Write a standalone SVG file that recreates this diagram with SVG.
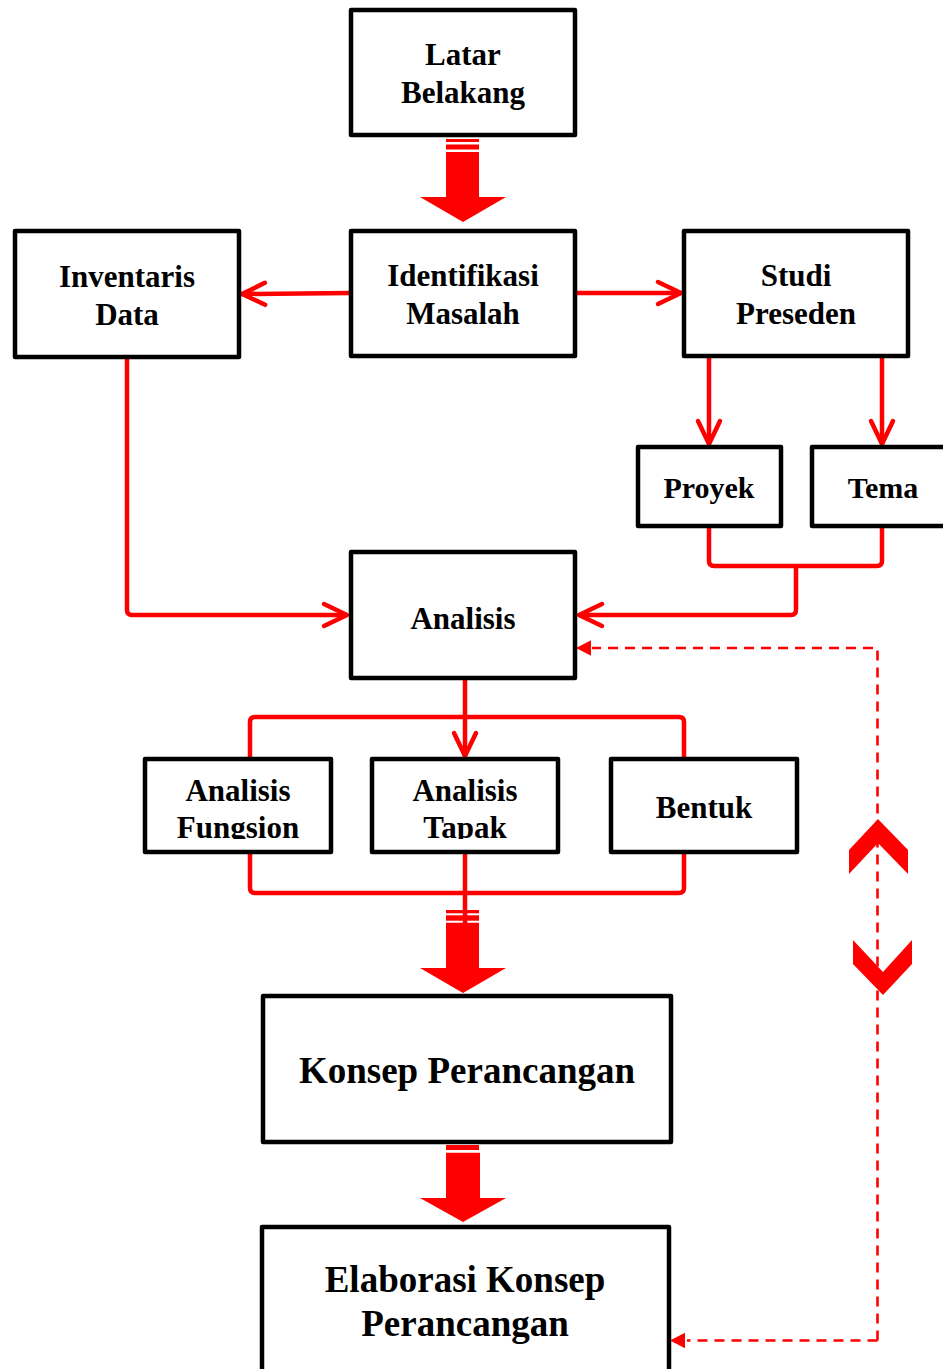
<svg xmlns="http://www.w3.org/2000/svg" width="943" height="1369" viewBox="0 0 943 1369">
<style>
.box{fill:#fff;stroke:#000;stroke-width:4.5;stroke-linejoin:round}
.t{font-family:"Liberation Serif","Times New Roman",serif;font-weight:bold;fill:#000;text-anchor:middle}
.t31{font-size:31px}
.t29{font-size:30px}
.t37{font-size:37px}
.ln{fill:none;stroke:#f00;stroke-width:4.5;stroke-linejoin:round;stroke-linecap:butt}
.dash{fill:none;stroke:#f00;stroke-width:2.6;stroke-dasharray:10 7}
.big{fill:#f00}
</style>
<defs>
<marker id="open" markerUnits="userSpaceOnUse" viewBox="-30 -16 34 32" refX="0" refY="0" markerWidth="34" markerHeight="32" orient="auto" overflow="visible">
<path d="M-23,-11 L0,0 L-23,11" fill="none" stroke="#f00" stroke-width="4.5" stroke-linecap="round" stroke-linejoin="round"/>
</marker>
<marker id="tri" markerUnits="userSpaceOnUse" viewBox="-16 -8 17 16" refX="0" refY="0" markerWidth="17" markerHeight="16" orient="auto" overflow="visible">
<path d="M0,0 L-15,-7.8 L-15,7.8 Z" fill="#f00"/>
</marker>
<clipPath id="clipF"><rect x="145" y="759" width="186" height="80"/></clipPath>
<clipPath id="clipT"><rect x="372" y="759" width="186" height="80"/></clipPath>
</defs>

<g id="connectors">
<!-- big arrows -->
<g id="big1" class="big">
<rect x="446" y="139" width="33" height="3"/>
<rect x="446" y="144.5" width="33" height="5"/>
<polygon points="446,152 479,152 479,197 506,197 463,222 420,197 446,197"/>
</g>
<g id="big2" class="big">
<rect x="446" y="910" width="33" height="3.3"/>
<rect x="446" y="915.3" width="33" height="5.4"/>
<polygon points="446,922.7 479,922.7 479,968 506,968 463,993 420,968 446,968"/>
</g>
<g id="big3" class="big">
<rect x="446" y="1140" width="33" height="3"/>
<rect x="446" y="1145" width="33" height="5"/>
<polygon points="446,1152.7 480,1152.7 480,1198 506,1198 463,1222 420,1198 446,1198"/>
</g>

<!-- thin connectors -->
<path class="ln" d="M351,293 L242,294" marker-end="url(#open)"/>
<path class="ln" d="M575,293 L681,293" marker-end="url(#open)"/>
<path class="ln" d="M709,357 L709,444" marker-end="url(#open)"/>
<path class="ln" d="M882,357 L882,444" marker-end="url(#open)"/>
<path class="ln" d="M709,527 L709,561 Q709,566 714,566 L877,566 Q882,566 882,561 L882,527"/>
<path class="ln" d="M796,566 L796,610 Q796,615 791,615 L579,615" marker-end="url(#open)"/>
<path class="ln" d="M127,357 L127,610 Q127,615 132,615 L347,615" marker-end="url(#open)"/>
<path class="ln" d="M465,679 L465,756" marker-end="url(#open)"/>
<path class="ln" d="M250,759 L250,722 Q250,717 255,717 L679,717 Q684,717 684,722 L684,759"/>
<path class="ln" d="M250,852 L250,888 Q250,893 255,893 L679,893 Q684,893 684,888 L684,852"/>
<path class="ln" d="M465,852 L465,924"/>

<!-- dashed feedback -->
<path class="dash" d="M877.5,1340.5 L877.5,648 L592,648"/>
<path d="M590,648 L576,648" stroke="none" marker-end="url(#tri)"/>
<path class="dash" d="M877.5,1340.5 L687,1340.5"/>
<path d="M690,1340.5 L670,1340.5" stroke="none" marker-end="url(#tri)"/>
<polygon class="big" points="878,819 908,850 908,874 878,843 849,874 849,850"/>
<polygon class="big" points="853,940 883,972 912,940 912,964 883,995 853,964"/>
</g>

<g id="latar">
<rect class="box" x="351" y="10" width="224" height="125"/>
<text class="t t31" x="463" y="65">Latar</text>
<text class="t t31" x="463" y="103">Belakang</text>
</g>
<g id="identifikasi">
<rect class="box" x="351" y="231" width="224" height="125"/>
<text class="t t31" x="463" y="286">Identifikasi</text>
<text class="t t31" x="463" y="324">Masalah</text>
</g>
<g id="inventaris">
<rect class="box" x="15" y="231" width="224" height="126"/>
<text class="t t31" x="127" y="287">Inventaris</text>
<text class="t t31" x="127" y="325">Data</text>
</g>
<g id="studi">
<rect class="box" x="684" y="231" width="224" height="125"/>
<text class="t t31" x="796" y="286">Studi</text>
<text class="t t31" x="796" y="324">Preseden</text>
</g>
<g id="proyek">
<rect class="box" x="638" y="447" width="143" height="79"/>
<text class="t t29" x="709" y="498">Proyek</text>
</g>
<g id="tema">
<rect class="box" x="812" y="447" width="143" height="79"/>
<text class="t t29" x="883" y="498">Tema</text>
</g>
<g id="analisis">
<rect class="box" x="351" y="552" width="224" height="126"/>
<text class="t t31" x="463" y="629">Analisis</text>
</g>
<g id="fungsion">
<rect class="box" x="145" y="759" width="186" height="93"/>
<g clip-path="url(#clipF)">
<text class="t t31" x="238" y="801">Analisis</text>
<text class="t t31" x="238" y="838">Fungsion</text>
</g>
</g>
<g id="tapak">
<rect class="box" x="372" y="759" width="186" height="93"/>
<g clip-path="url(#clipT)">
<text class="t t31" x="465" y="801">Analisis</text>
<text class="t t31" x="465" y="838">Tapak</text>
</g>
</g>
<g id="bentuk">
<rect class="box" x="611" y="759" width="186" height="93"/>
<text class="t t31" x="704" y="818">Bentuk</text>
</g>
<g id="konsep">
<rect class="box" x="263" y="996" width="408" height="146"/>
<text class="t t37" x="467" y="1083">Konsep Perancangan</text>
</g>
<g id="elaborasi">
<rect class="box" x="262" y="1227" width="407" height="160"/>
<text class="t t37" x="465" y="1292">Elaborasi Konsep</text>
<text class="t t37" x="465" y="1336">Perancangan</text>
</g>
</svg>
